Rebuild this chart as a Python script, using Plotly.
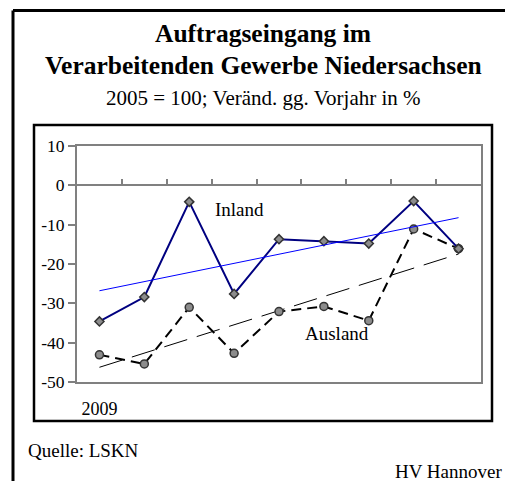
import numpy as np
import plotly.graph_objects as go

# ---- data ----
categories = list(range(9))          # points starting 2009
tick_labels = ["2009", "", "", "", "", "", "", "", ""]
inland = [-34.6, -28.4, -4.2, -27.6, -13.7, -14.2, -14.8, -4.0, -16.1]
ausland = [-43.1, -45.4, -31.0, -42.7, -32.1, -30.8, -34.4, -11.1, -16.1]
y_ticks = [10, 0, -10, -20, -30, -40, -50]
y_tick_text = ["10", "0", "-10", "-20", "-30", "-40", "-50"]

# linear trends (as in the original spreadsheet chart)
xs = np.array(categories, dtype=float)
inl_fit = np.polyval(np.polyfit(xs, inland, 1), xs)
aus_fit = np.polyval(np.polyfit(xs, ausland, 1), xs)

W, H = 505, 481
L, R, T, B = 77, 481, 146, 382   # plot area in pixels


def px(x):
    return (x - L) / (R - L)


def py(y):
    return (B - y) / (B - T)


SERIF = "Liberation Serif"
fig = go.Figure()

fig.add_trace(go.Scatter(x=categories, y=inl_fit, mode="lines", xaxis="x2",
                         line=dict(color="#0000FF", width=1), hoverinfo="skip"))
fig.add_trace(go.Scatter(x=categories, y=aus_fit, mode="lines",
                         line=dict(color="#000000", width=1, dash="24px,10px"),
                         hoverinfo="skip"))
fig.add_trace(go.Scatter(x=categories, y=ausland, mode="lines+markers", name="Ausland",
                         line=dict(color="#000000", width=2, dash="10px,6px"),
                         marker=dict(symbol="circle", size=8, color="#8c8c8c",
                                     line=dict(color="#333333", width=1.5))))
fig.add_trace(go.Scatter(x=categories, y=inland, mode="lines+markers", name="Inland",
                         line=dict(color="#000080", width=2),
                         marker=dict(symbol="diamond", size=7, color="#8c8c8c",
                                     line=dict(color="#333333", width=1.5))))

fig.update_layout(
    width=W, height=H, autosize=False, showlegend=False,
    margin=dict(l=L, r=W - R, t=T, b=H - B, pad=0),
    paper_bgcolor="white", plot_bgcolor="white",
    font=dict(family=SERIF, color="black"),
    xaxis=dict(range=[-0.5, 8.5], tickmode="array", tickvals=categories,
               ticktext=tick_labels, ticks="outside", ticklen=9,
               tickcolor="rgba(0,0,0,0)", showgrid=False, zeroline=False,
               showline=True, mirror=True, linecolor="#808080", linewidth=2,
               tickfont=dict(family=SERIF, size=18, color="black")),
    xaxis2=dict(range=[-0.5, 8.5], overlaying="x", anchor="free",
                position=(0 - y_ticks[-1]) / (y_ticks[0] - y_ticks[-1]),
                side="top", tickmode="array",
                tickvals=[c + 0.5 for c in categories[:-1]],
                ticks="outside", ticklen=5, tickwidth=1.5, tickcolor="#808080",
                showticklabels=False, showgrid=False, zeroline=False,
                showline=True, linecolor="#808080", linewidth=2),
    yaxis=dict(range=[y_ticks[-1], y_ticks[0]], tickmode="array", tickvals=y_ticks,
               ticktext=y_tick_text,
               ticks="outside", ticklen=7, tickwidth=1.5, tickcolor="#808080",
               showgrid=False, zeroline=False, showline=True, mirror=True,
               linecolor="#808080", linewidth=2,
               tickfont=dict(family=SERIF, size=17.5, color="black")),
)

ann = [
    ("<b>Auftragseingang im</b>", 263, 34, 25.5, "center"),
    ("<b>Verarbeitenden Gewerbe Niedersachsen</b>", 263, 65, 25.5, "center"),
    ("2005 = 100; Veränd. gg. Vorjahr in %", 263, 98, 21, "center"),
    ("Quelle: LSKN", 26, 450, 19, "left"),
    ("HV Hannover", 504, 471, 19, "right"),
]
for text, x, y, size, anchor in ann:
    fig.add_annotation(text=text, x=px(x), y=py(y), xref="paper", yref="paper",
                       xanchor=anchor, yanchor="middle", showarrow=False,
                       font=dict(family=SERIF, size=size, color="black"))

fig.add_annotation(text="Inland", x=3.13, y=-6.1, xref="x", yref="y",
                   showarrow=False, font=dict(family=SERIF, size=19, color="black"))
fig.add_annotation(text="Ausland", x=5.29, y=-37.7, xref="x", yref="y",
                   showarrow=False, font=dict(family=SERIF, size=19, color="black"))

# inner chart box and outer page frame
fig.add_shape(type="rect", xref="paper", yref="paper",
              x0=px(34), x1=px(492), y0=py(421), y1=py(125),
              line=dict(color="black", width=2.5), layer="below")
fig.add_shape(type="line", xref="paper", yref="paper",
              x0=px(13), x1=px(510), y0=py(10.5), y1=py(10.5),
              line=dict(color="black", width=3))
fig.add_shape(type="line", xref="paper", yref="paper",
              x0=px(13), x1=px(13), y0=py(10.5), y1=py(490),
              line=dict(color="black", width=3))

fig.write_html("out.html", config={"displayModeBar": False},
               post_script="document.body.style.margin='0';")
